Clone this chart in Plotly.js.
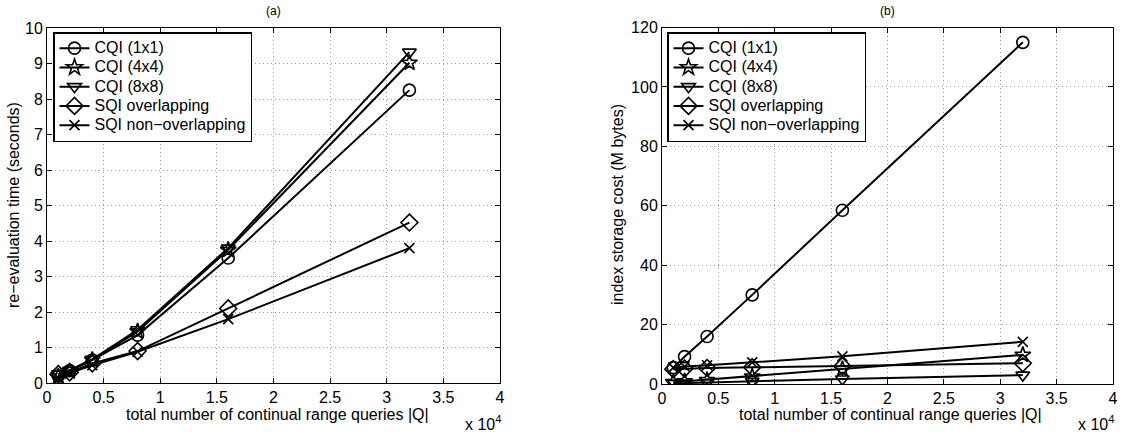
<!DOCTYPE html>
<html>
<head>
<meta charset="utf-8">
<script src="https://cdn.plot.ly/plotly-3.0.1.min.js"></script>
<style>html,body{margin:0;padding:0;background:#fff;}#chart{width:1122px;height:433px;}</style>
</head>
<body>
<div id="chart"></div>
<script>
// ---- data ----
const queries = [1000, 2000, 4000, 8000, 16000, 32000];
const seriesNames = ["CQI (1x1)", "CQI (4x4)", "CQI (8x8)", "SQI overlapping", "SQI non\u2212overlapping"];
// (a) re-evaluation time (seconds)
const timeCQI1 = [0.20, 0.35, 0.65, 1.35, 3.52, 8.25];
const timeCQI4 = [0.18, 0.33, 0.65, 1.45, 3.75, 9.02];
const timeCQI8 = [0.25, 0.36, 0.67, 1.50, 3.80, 9.32];
const timeSQIo = [0.25, 0.30, 0.55, 0.90, 2.10, 4.52];
const timeSQIn = [0.15, 0.28, 0.50, 0.88, 1.80, 3.80];
// (b) index storage cost (M bytes)
const memCQI1 = [5.5, 9.2, 16.0, 30.0, 58.5, 115.0];
const memCQI4 = [0.6, 0.9, 1.3, 2.5, 5.0, 9.8];
const memCQI8 = [0.2, 0.3, 0.5, 0.9, 1.7, 3.0];
const memSQIo = [5.0, 5.2, 5.4, 5.6, 6.0, 7.0];
const memSQIn = [5.5, 5.9, 6.3, 7.3, 9.3, 14.2];
const xTickVals = [0, 5000, 10000, 15000, 20000, 25000, 30000, 35000, 40000];
const xTickText = ["0", "0.5", "1", "1.5", "2", "2.5", "3", "3.5", "4"];
const yTickValsA = [0, 1, 2, 3, 4, 5, 6, 7, 8, 9, 10];
const yTickValsB = [0, 20, 40, 60, 80, 100, 120];
const xTitle = "total number of continual range queries |Q|";
const yTitleA = "re\u2212evaluation time (seconds)";
const yTitleB = "index storage cost (M bytes)";

const symbols = ["circle-open", "star-open", "triangle-down-open", "diamond-open", "x-thin-open"];
const sizes = [12, 12, 12, 13, 10];
const timeSeries = [timeCQI1, timeCQI4, timeCQI8, timeSQIo, timeSQIn];
const memSeries = [memCQI1, memCQI4, memCQI8, memSQIo, memSQIn];

const traces = [];
function addSet(series, xa, ya, leg) {
  series.forEach((vals, i) => {
    traces.push({
      x: queries, y: vals, type: "scatter", mode: "lines+markers",
      name: '<span style="font-size:16px">' + seriesNames[i] + '</span>',
      xaxis: xa, yaxis: ya, legend: leg,
      line: {color: "#000", width: 2},
      marker: {symbol: symbols[i], size: sizes[i], color: "#000", line: {color: "#000", width: 1.6}}
    });
  });
}
addSet(timeSeries, "x", "y", "legend");
addSet(memSeries, "x2", "y2", "legend2");

const FAM = "Liberation Sans, Arial, sans-serif";
const fnt = {family: FAM, size: 16, color: "#000"};
const legFnt = {family: FAM, size: 12.5, color: "#000"};
function xaxis(domain, anchor) {
  return {
    domain: domain, anchor: anchor, range: [0, 40000],
    tickvals: xTickVals, ticktext: xTickText,
    showline: true, linecolor: "#000", linewidth: 1, mirror: "ticks",
    ticks: "inside", ticklen: 5, tickcolor: "#000",
    showgrid: true, gridcolor: "#9a9a9a", griddash: "1px,3px", gridwidth: 1,
    zeroline: false, tickfont: fnt
  };
}
function yaxis(domain, anchor, range, vals) {
  return {
    domain: domain, anchor: anchor, range: range, tickvals: vals,
    showline: true, linecolor: "#000", linewidth: 1, mirror: "ticks",
    ticks: "inside", ticklen: 5, tickcolor: "#000",
    showgrid: true, gridcolor: "#9a9a9a", griddash: "1px,3px", gridwidth: 1,
    zeroline: false, tickfont: fnt
  };
}
const legendStyle = (x) => ({
  x: x, y: 0.926, xanchor: "left", yanchor: "top", xref: "paper", yref: "paper",
  bgcolor: "#fff", bordercolor: "#000", borderwidth: 1.5,
  font: legFnt, tracegroupgap: 0, itemwidth: 30
});
function ann(text, xpx, ypx, opts) {
  return Object.assign({text: text, x: xpx/1122, y: (433-ypx)/433, xref: "paper", yref: "paper",
    showarrow: false, xanchor: "center", yanchor: "middle", font: fnt}, opts || {});
}

const layout = {
  width: 1122, height: 433,
  margin: {l: 0, r: 0, t: 0, b: 0},
  paper_bgcolor: "#fff", plot_bgcolor: "#fff",
  showlegend: true,
  xaxis: xaxis([47/1122, 500/1122], "y"),
  yaxis: yaxis([50/433, 405/433], "x", [0, 10], yTickValsA),
  xaxis2: xaxis([662/1122, 1113/1122], "y2"),
  yaxis2: yaxis([49/433, 405.5/433], "x2", [0, 120], yTickValsB),
  legend: legendStyle(53/1122),
  legend2: legendStyle(667/1122),
  annotations: [
    ann("(a)", 273.5, 11, {font: {family: FAM, size: 12, color: "#000"}}),
    ann("(b)", 887.5, 11, {font: {family: FAM, size: 12, color: "#000"}}),
    ann(xTitle, 277, 414),
    ann(xTitle, 890, 414),
    ann(yTitleA, 13, 205, {textangle: -90}),
    ann(yTitleB, 617, 205, {textangle: -90}),
    ann("x 10<sup>4</sup>", 503, 423, {xanchor: "right"}),
    ann("x 10<sup>4</sup>", 1116, 423, {xanchor: "right"})
  ]
};

Plotly.newPlot("chart", traces, layout, {displayModeBar: false, staticPlot: true});
</script>
</body>
</html>
